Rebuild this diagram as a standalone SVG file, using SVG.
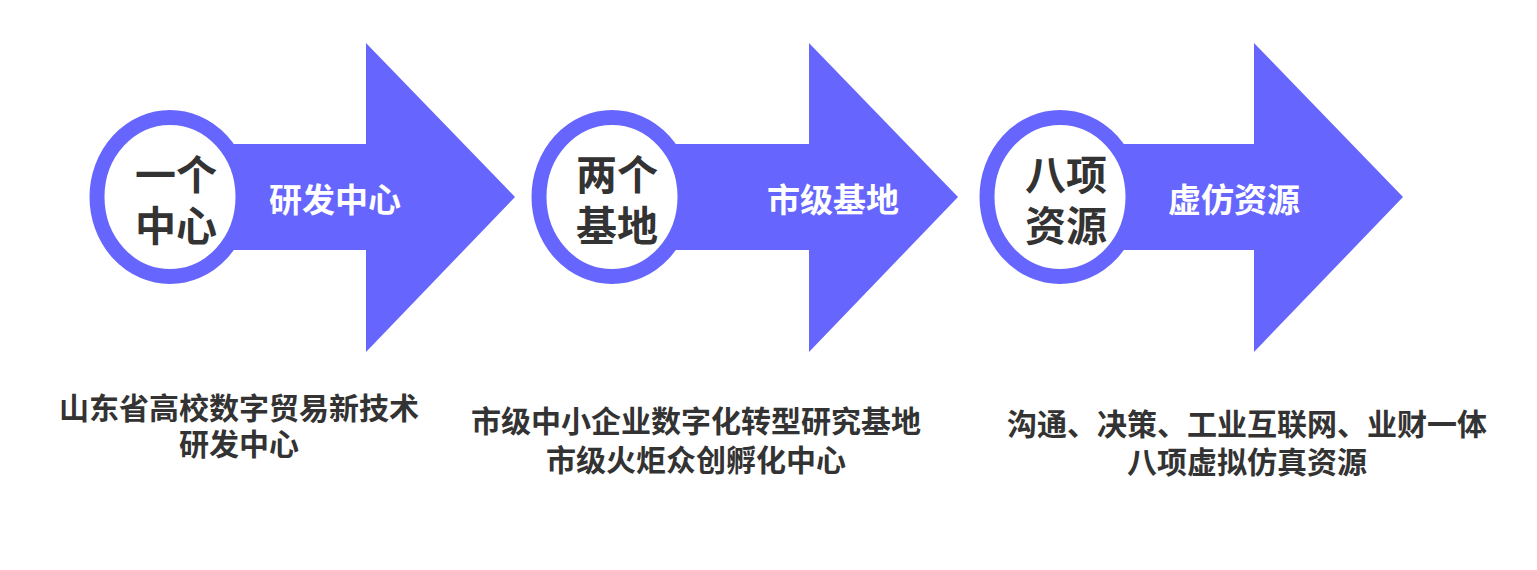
<svg xmlns="http://www.w3.org/2000/svg" width="1537" height="570" viewBox="0 0 1537 570">
<style>
.arrow{fill:#6666FF}
.ring{fill:#FFFFFF;stroke:#6666FF;stroke-width:15}
.t{font-family:"Noto Sans CJK SC","Noto Sans",sans-serif;font-weight:bold;text-anchor:middle;dominant-baseline:central}
.big{font-size:41px;fill:#333333}
.lab{font-size:33px;fill:#FFFFFF}
.desc{font-size:30px;fill:#333333}
</style>
<rect width="1537" height="570" fill="#FFFFFF"/>
<g id="connectors"></g>
<g id="node1">
<polygon class="arrow" points="170,144 366,144 366,43 515,197 366,352 366,250 170,250"/>
<ellipse class="ring" cx="170" cy="197" rx="73" ry="79.5"/>
<text class="t big" x="176" y="172">一个</text>
<text class="t big" x="176" y="223">中心</text>
<text class="t lab" x="335" y="198">研发中心</text>
<text class="t desc" x="239" y="406">山东省高校数字贸易新技术</text>
<text class="t desc" x="239" y="442">研发中心</text>
</g>
<g id="node2">
<polygon class="arrow" points="612,144 809,144 809,43 958,197 809,352 809,250 612,250"/>
<ellipse class="ring" cx="612" cy="197" rx="73" ry="79.5"/>
<text class="t big" x="617" y="172">两个</text>
<text class="t big" x="617" y="223">基地</text>
<text class="t lab" x="833" y="198">市级基地</text>
<text class="t desc" x="696" y="419">市级中小企业数字化转型研究基地</text>
<text class="t desc" x="696" y="458">市级火炬众创孵化中心</text>
</g>
<g id="node3">
<polygon class="arrow" points="1060,144 1254,144 1254,43 1403,197 1254,352 1254,250 1060,250"/>
<ellipse class="ring" cx="1060" cy="197" rx="73" ry="79.5"/>
<text class="t big" x="1066" y="172">八项</text>
<text class="t big" x="1066" y="223">资源</text>
<text class="t lab" x="1234" y="198">虚仿资源</text>
<text class="t desc" x="1247" y="422">沟通、决策、工业互联网、业财一体</text>
<text class="t desc" x="1247" y="460">八项虚拟仿真资源</text>
</g>
</svg>
